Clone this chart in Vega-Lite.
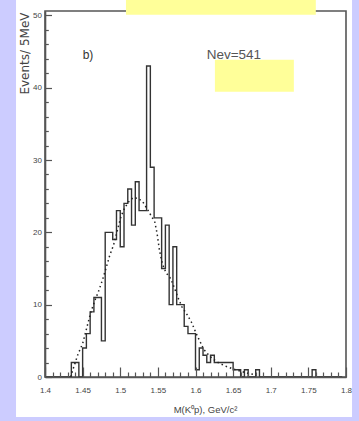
{
  "$schema": "https://vega.github.io/schema/vega-lite/v6.json",
  "width": 301,
  "height": 366,
  "autosize": {"type": "none"},
  "padding": {"left": 45, "top": 11, "right": 13, "bottom": 44},
  "background": "#ccccff",
  "config": {
    "view": {"stroke": null},
    "axis": {
      "grid": false,
      "domainColor": "#555",
      "domainWidth": 1.6,
      "tickColor": "#555",
      "tickWidth": 1.2,
      "labelFont": "Liberation Sans",
      "labelFontSize": 8,
      "labelColor": "#444",
      "titleColor": "#444",
      "titleFontWeight": "normal"
    }
  },
  "datasets": {
    "hist": [
      {"m": 1.400, "n": 0}, {"m": 1.405, "n": 0}, {"m": 1.410, "n": 0}, {"m": 1.415, "n": 0},
      {"m": 1.420, "n": 0}, {"m": 1.425, "n": 0}, {"m": 1.430, "n": 0}, {"m": 1.435, "n": 2},
      {"m": 1.440, "n": 2}, {"m": 1.445, "n": 0}, {"m": 1.450, "n": 4}, {"m": 1.455, "n": 6},
      {"m": 1.460, "n": 9}, {"m": 1.465, "n": 11}, {"m": 1.470, "n": 11}, {"m": 1.475, "n": 5},
      {"m": 1.480, "n": 20}, {"m": 1.485, "n": 20}, {"m": 1.490, "n": 19}, {"m": 1.495, "n": 23},
      {"m": 1.500, "n": 18}, {"m": 1.505, "n": 24}, {"m": 1.510, "n": 26}, {"m": 1.515, "n": 21},
      {"m": 1.520, "n": 27}, {"m": 1.525, "n": 23}, {"m": 1.530, "n": 23}, {"m": 1.535, "n": 43},
      {"m": 1.540, "n": 29}, {"m": 1.545, "n": 22}, {"m": 1.550, "n": 22}, {"m": 1.555, "n": 15},
      {"m": 1.560, "n": 21}, {"m": 1.565, "n": 10}, {"m": 1.570, "n": 18}, {"m": 1.575, "n": 10},
      {"m": 1.580, "n": 10}, {"m": 1.585, "n": 7}, {"m": 1.590, "n": 6}, {"m": 1.595, "n": 6},
      {"m": 1.600, "n": 1}, {"m": 1.605, "n": 4}, {"m": 1.610, "n": 3}, {"m": 1.615, "n": 2},
      {"m": 1.620, "n": 3}, {"m": 1.625, "n": 2}, {"m": 1.630, "n": 2}, {"m": 1.635, "n": 2},
      {"m": 1.640, "n": 2}, {"m": 1.645, "n": 2}, {"m": 1.650, "n": 1}, {"m": 1.655, "n": 1},
      {"m": 1.660, "n": 0}, {"m": 1.665, "n": 1}, {"m": 1.670, "n": 0}, {"m": 1.675, "n": 0},
      {"m": 1.680, "n": 1}, {"m": 1.685, "n": 0}, {"m": 1.690, "n": 0}, {"m": 1.695, "n": 0},
      {"m": 1.700, "n": 0}, {"m": 1.705, "n": 0}, {"m": 1.710, "n": 0}, {"m": 1.715, "n": 0},
      {"m": 1.720, "n": 0}, {"m": 1.725, "n": 0}, {"m": 1.730, "n": 0}, {"m": 1.735, "n": 0},
      {"m": 1.740, "n": 0}, {"m": 1.745, "n": 0}, {"m": 1.750, "n": 0}, {"m": 1.755, "n": 1},
      {"m": 1.760, "n": 0}, {"m": 1.765, "n": 0}, {"m": 1.770, "n": 0}, {"m": 1.775, "n": 0},
      {"m": 1.780, "n": 0}, {"m": 1.785, "n": 0}, {"m": 1.790, "n": 0}, {"m": 1.795, "n": 0}
    ],
    "fit": [
      {"m": 1.434, "f": 0}, {"m": 1.437, "f": 1}, {"m": 1.444, "f": 3.2}, {"m": 1.450, "f": 4.6},
      {"m": 1.456, "f": 7}, {"m": 1.461, "f": 9}, {"m": 1.466, "f": 10.5}, {"m": 1.471, "f": 11.8},
      {"m": 1.476, "f": 13.3}, {"m": 1.481, "f": 15}, {"m": 1.486, "f": 16.8}, {"m": 1.491, "f": 18.2},
      {"m": 1.496, "f": 20.2}, {"m": 1.501, "f": 22.2}, {"m": 1.506, "f": 23.4}, {"m": 1.511, "f": 24.2},
      {"m": 1.517, "f": 24.8}, {"m": 1.524, "f": 24.7}, {"m": 1.530, "f": 24.2}, {"m": 1.536, "f": 23.2},
      {"m": 1.541, "f": 22.3}, {"m": 1.546, "f": 21.4}, {"m": 1.549, "f": 19.8}, {"m": 1.552, "f": 17.6},
      {"m": 1.556, "f": 15.6}, {"m": 1.561, "f": 14.4}, {"m": 1.567, "f": 13.6}, {"m": 1.572, "f": 12.3},
      {"m": 1.577, "f": 10.9}, {"m": 1.582, "f": 9.7}, {"m": 1.589, "f": 8.6}, {"m": 1.595, "f": 7.5},
      {"m": 1.601, "f": 6.0}, {"m": 1.606, "f": 4.9}, {"m": 1.611, "f": 3.8}, {"m": 1.617, "f": 3.1},
      {"m": 1.623, "f": 2.5}, {"m": 1.630, "f": 2.0}, {"m": 1.640, "f": 1.5}, {"m": 1.650, "f": 1.1},
      {"m": 1.660, "f": 0.8}, {"m": 1.670, "f": 0.5}, {"m": 1.680, "f": 0.3}
    ]
  },
  "resolve": {"axis": {"x": "independent", "y": "independent"}},
  "layer": [
    {
      "data": {"values": [{}]},
      "mark": {"type": "rect", "fill": "white"},
      "encoding": {
        "x": {"datum": 1.3615, "type": "quantitative", "scale": {"domain": [1.4, 1.8], "nice": false, "zero": false}, "axis": null},
        "x2": {"datum": 1.808},
        "y": {"datum": -5.53, "type": "quantitative", "scale": {"domain": [0, 50.6], "nice": false, "zero": false}, "axis": null},
        "y2": {"datum": 52.12}
      }
    },
    {
      "data": {"values": [{}]},
      "mark": {"type": "rect", "fill": null, "stroke": "#555", "strokeWidth": 1.6},
      "encoding": {
        "x": {"datum": 1.4, "type": "quantitative", "axis": null},
        "x2": {"datum": 1.8},
        "y": {"datum": 0, "type": "quantitative", "axis": null},
        "y2": {"datum": 50.6}
      }
    },
    {
      "data": {"name": "hist"},
      "mark": {"type": "line", "interpolate": "step-after", "color": "#333", "strokeWidth": 1.4},
      "encoding": {
        "x": {
          "field": "m", "type": "quantitative",
          "axis": {
            "orient": "bottom",
            "zindex": 2,
            "values": [1.4, 1.45, 1.5, 1.55, 1.6, 1.65, 1.7, 1.75, 1.8],
            "format": "~g",
            "tickSize": -10,
            "labelPadding": 19,
            "labelFlush": false,
            "labelOverlap": false,
            "title": "M(K⁰p), GeV/c²",
            "titleFont": "Liberation Sans",
            "titleFontSize": 9.5,
            "titleX": 160,
            "titleY": 35,
            "titleAlign": "center",
            "titleBaseline": "alphabetic"
          }
        },
        "y": {
          "field": "n", "type": "quantitative",
          "axis": {
            "orient": "left",
            "zindex": 2,
            "values": [0, 10, 20, 30, 40, 50],
            "tickSize": -6.5,
            "labelPadding": 10,
            "labelFlush": false,
            "labelOverlap": false,
            "title": "Events/ 5MeV",
            "titleFont": "DejaVu Sans",
            "titleFontSize": 12,
            "titleAngle": 270,
            "titleX": -17,
            "titleY": 1,
            "titleAlign": "right",
            "titleBaseline": "alphabetic"
          }
        }
      }
    },
    {
      "data": {"name": "fit"},
      "mark": {"type": "line", "color": "#222", "strokeWidth": 1.5, "strokeDash": [1.5, 3]},
      "encoding": {
        "x": {
          "field": "m", "type": "quantitative",
          "axis": {
            "orient": "bottom",
            "zindex": 2,
            "values": [1.41, 1.42, 1.43, 1.44, 1.46, 1.47, 1.48, 1.49, 1.51, 1.52, 1.53, 1.54, 1.56, 1.57, 1.58, 1.59, 1.61, 1.62, 1.63, 1.64, 1.66, 1.67, 1.68, 1.69, 1.71, 1.72, 1.73, 1.74, 1.76, 1.77, 1.78, 1.79],
            "tickSize": -5,
            "labels": false,
            "domain": false,
            "title": null
          }
        },
        "y": {
          "field": "f", "type": "quantitative",
          "axis": {
            "orient": "left",
            "zindex": 2,
            "values": [2, 4, 6, 8, 12, 14, 16, 18, 22, 24, 26, 28, 32, 34, 36, 38, 42, 44, 46, 48],
            "tickSize": -3.3,
            "labels": false,
            "domain": false,
            "title": null
          }
        }
      }
    },
    {
      "data": {"values": [{}]},
      "mark": {"type": "rect", "fill": "#ffff99"},
      "encoding": {
        "x": {"datum": 1.5076, "type": "quantitative", "axis": null},
        "x2": {"datum": 1.7599},
        "y": {"datum": 50.07, "type": "quantitative", "axis": null},
        "y2": {"datum": 52.12}
      }
    },
    {
      "data": {"values": [{}]},
      "mark": {"type": "rect", "fill": "#ffff99"},
      "encoding": {
        "x": {"datum": 1.6258, "type": "quantitative", "axis": null},
        "x2": {"datum": 1.7307},
        "y": {"datum": 39.42, "type": "quantitative", "axis": null},
        "y2": {"datum": 43.86}
      }
    },
    {
      "data": {"values": [{}]},
      "mark": {"type": "text", "text": "b)", "align": "left", "baseline": "alphabetic", "font": "Liberation Sans", "fontSize": 12, "color": "#333"},
      "encoding": {
        "x": {"datum": 1.4501, "type": "quantitative", "axis": null},
        "y": {"datum": 43.9, "type": "quantitative", "axis": null}
      }
    },
    {
      "data": {"values": [{}]},
      "mark": {"type": "text", "text": "Nev=541", "align": "left", "baseline": "alphabetic", "font": "Liberation Sans", "fontSize": 13.5, "color": "#555"},
      "encoding": {
        "x": {"datum": 1.6149, "type": "quantitative", "axis": null},
        "y": {"datum": 43.92, "type": "quantitative", "axis": null}
      }
    }
  ]
}
